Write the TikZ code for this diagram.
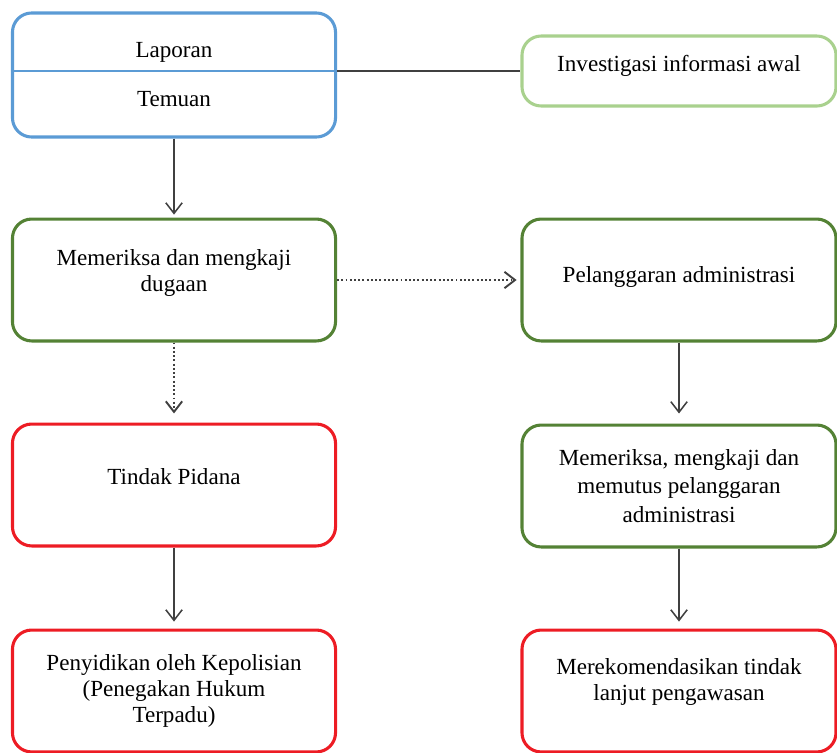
\documentclass[tikz,border=0pt]{standalone}
\usepackage{fontspec}
\setmainfont{Liberation Serif}
\usetikzlibrary{arrows.meta}
\definecolor{lapblue}{RGB}{91,155,213}
\definecolor{palegreen}{RGB}{169,209,142}
\definecolor{darkgreen}{RGB}{84,130,53}
\definecolor{boxred}{RGB}{237,28,36}
\definecolor{linegray}{RGB}{64,64,64}
\begin{document}
\begin{tikzpicture}[x=0.52pt,y=-0.52pt,
    box/.style={draw,rounded corners=10pt,line width=1.6pt,align=center,
      font=\fontsize{12}{13.5}\selectfont,minimum height=63.4pt},
    leftbox/.style={box,minimum width=168pt},
    rightbox/.style={box,minimum width=163.3pt},
    lift/.style={text depth=#1},
    flow/.style={draw=linegray,line width=0.8pt,-{Straight Barb[length=5.5pt,width=8.5pt]}},
    dots/.style={line width=1pt,dash pattern=on 1pt off 1.2pt}]
  \useasboundingbox (0,0) rectangle (837,753);
  \draw
    (174,75) node[leftbox,draw=lapblue,minimum height=64.5pt] (lapor){Laporan\\[12pt]Temuan}
    (679,71) node[rightbox,draw=palegreen,minimum height=36.4pt,lift=8pt] (invest){Investigasi informasi awal}
    (174,280) node[leftbox,draw=darkgreen,lift=10pt] (periksa){Memeriksa dan mengkaji\\dugaan}
    (679,280) node[rightbox,draw=darkgreen,lift=6pt] (langgar){Pelanggaran administrasi}
    (174,485) node[leftbox,draw=boxred,lift=9pt] (pidana){Tindak Pidana}
    (679,486) node[rightbox,draw=darkgreen] (putus){Memeriksa, mengkaji dan\\[1.5pt]memutus pelanggaran\\[1.5pt]administrasi}
    (174,691) node[leftbox,draw=boxred] (sidik){Penyidikan oleh Kepolisian\\(Penegakan Hukum\\Terpadu)}
    (679,691) node[rightbox,draw=boxred,lift=12pt] (rekom){Merekomendasikan tindak\\lanjut pengawasan};
  % divider and link to the first check
  \draw[lapblue,line width=0.6pt] (lapor.west |- invest.west) -- (lapor.east |- invest.west);
  \draw[linegray,line width=1.2pt] (lapor.east |- invest.west) -- (invest.west);
  \begin{scope}[flow]
    \draw[shorten >=1.5pt] (lapor) to (periksa);
    \draw[dots,shorten >=2pt] (periksa) to (langgar);
    \draw[dots,shorten >=4.7pt] (periksa) to (pidana);
    \draw[shorten >=5.2pt] (langgar) to (putus);
    \draw[shorten >=3.6pt] (pidana) to (sidik);
    \draw[shorten >=3.6pt] (putus) to (rekom);
  \end{scope}
\end{tikzpicture}
\end{document}
